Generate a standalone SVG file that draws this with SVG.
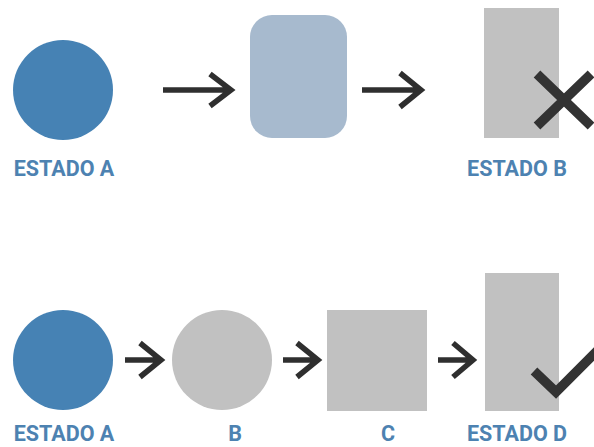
<svg xmlns="http://www.w3.org/2000/svg" width="594" height="447" viewBox="0 0 594 447">
  <style>
    .label { font-family: Roboto, "Liberation Sans", sans-serif; font-weight: 700; font-size: 21.5px; fill: #4d82b1; text-anchor: middle; }
    .arrow { fill: none; stroke: #2f2f2f; stroke-width: 5.5; stroke-linecap: butt; stroke-linejoin: miter; }
    .mark { fill: none; stroke: #333333; stroke-width: 9.5; stroke-linecap: butt; stroke-linejoin: miter; }
    .blue { fill: #4682b4; }
    .pale { fill: #a7bace; }
    .grey { fill: #c1c1c1; }
  </style>

  <!-- Top row -->
  <g id="top-estado-a">
    <circle class="blue" cx="63" cy="90" r="50"/>
    <text class="label" x="64" y="176">ESTADO A</text>
  </g>
  <g id="top-middle">
    <rect class="pale" x="250" y="15" width="97" height="123" rx="22" ry="22"/>
  </g>
  <g id="top-estado-b">
    <rect class="grey" x="484" y="8" width="75" height="130"/>
    <path class="mark" d="M537 74 L591 126 M591 74 L537 126"/>
    <text class="label" x="517" y="176">ESTADO B</text>
  </g>

  <!-- Bottom row -->
  <g id="bottom-estado-a">
    <circle class="blue" cx="63" cy="360" r="50"/>
    <text class="label" x="64" y="441">ESTADO A</text>
  </g>
  <g id="bottom-b">
    <circle class="grey" cx="222" cy="360" r="50"/>
    <text class="label" x="235" y="441">B</text>
  </g>
  <g id="bottom-c">
    <rect class="grey" x="327" y="310" width="100" height="101"/>
    <text class="label" x="388" y="441">C</text>
  </g>
  <g id="bottom-estado-d">
    <rect class="grey" x="485" y="273" width="74" height="138"/>
    <path class="mark" d="M534 371 L556 392 L600 348"/>
    <text class="label" x="517" y="441">ESTADO D</text>
  </g>

  <!-- Connectors -->
  <g id="connectors">
    <path class="arrow" d="M163 90 H231 M210 74 L231 90 L210 106"/>
    <path class="arrow" d="M362 90 H421 M400 73 L421 90 L400 107"/>
    <path class="arrow" d="M125 360 H161 M140 343 L161 360 L140 377"/>
    <path class="arrow" d="M283 360 H318 M297 343 L318 360 L297 377"/>
    <path class="arrow" d="M438 360 H473 M453 343 L473 360 L453 377"/>
  </g>
</svg>
